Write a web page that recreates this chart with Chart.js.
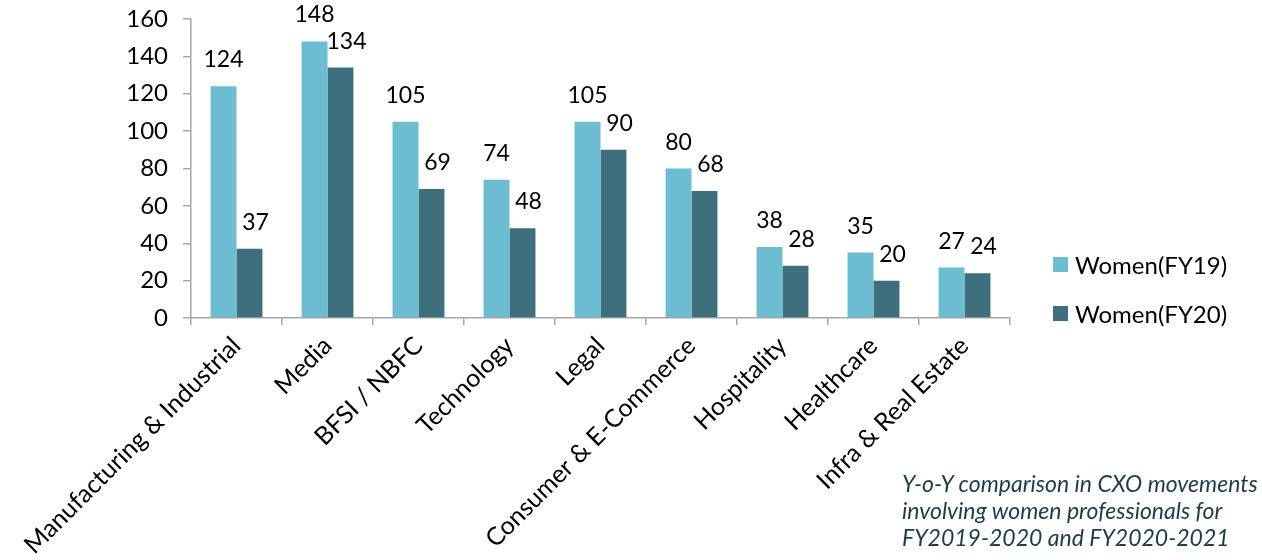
<!DOCTYPE html>
<html>
<head>
<meta charset="utf-8">
<title>CXO movements - women professionals</title>
<style>
  html, body { margin: 0; padding: 0; background: #fff; }
  #wrap { position: relative; width: 1262px; height: 560px; overflow: hidden; }
  #legend { position: absolute; left: 1053px; top: 248px; font: 24px Lato, sans-serif; color: #000; }
  #legend .item { display: flex; align-items: center; height: 32px; margin-bottom: 17px; }
  #legend .swatch { width: 15px; height: 15px; margin-right: 7px; }
  #caption { position: absolute; left: 902px; top: 470px; font: italic 23px Lato, sans-serif;
             color: #1d3b4b; line-height: 27px; white-space: nowrap; }
</style>
<script src="https://cdn.jsdelivr.net/npm/chart.js@4.4.0/dist/chart.umd.min.js"></script>
</head>
<body>
<div id="wrap">
  <canvas id="cxoChart" width="1262" height="560"></canvas>
  <div id="legend"></div>
  <div id="caption">Y-o-Y comparison in CXO movements<br>involving women professionals for<br>FY2019-2020 and FY2020-2021</div>
</div>
<script>
// sectors and CXO movement counts per year
const sectors = ['Manufacturing & Industrial', 'Media', 'BFSI / NBFC', 'Technology', 'Legal',
                 'Consumer & E-Commerce', 'Hospitality', 'Healthcare', 'Infra & Real Estate'];
const womenFY19 = [124, 148, 105, 74, 105, 80, 38, 35, 27];
const womenFY20 = [37, 134, 69, 48, 90, 68, 28, 20, 24];
const seriesNames = ['Women(FY19)', 'Women(FY20)'];
const yMin = 0, yMax = 160, yStep = 20;

const axisGrey = '#a6a6a6';
const fontFamily = 'Lato, sans-serif';

// numbers printed above each bar (second series nudged a little to the right)
const valueLabels = {
  id: 'valueLabels',
  afterDatasetsDraw(chart) {
    const ctx = chart.ctx;
    const nudge = [0, 6];
    ctx.save();
    ctx.font = '23px ' + fontFamily;
    ctx.fillStyle = '#000';
    ctx.textAlign = 'center';
    ctx.textBaseline = 'alphabetic';
    chart.data.datasets.forEach((ds, i) => {
      chart.getDatasetMeta(i).data.forEach((bar, j) => {
        ctx.fillText(String(ds.data[j]), bar.x + nudge[i], bar.y - 19);
      });
    });
    ctx.restore();
  }
};

const chart = new Chart(document.getElementById('cxoChart'), {
  type: 'bar',
  data: {
    labels: sectors,
    datasets: [
      { label: seriesNames[0], data: womenFY19, backgroundColor: '#6cbdd2' },
      { label: seriesNames[1], data: womenFY20, backgroundColor: '#3e6f7c' }
    ]
  },
  options: {
    responsive: false,
    animation: false,
    layout: { padding: { top: 19, right: 252, left: 0, bottom: 0 } },
    datasets: { bar: { categoryPercentage: 0.57, barPercentage: 1.0 } },
    scales: {
      x: {
        afterFit(scale) {
          scale.height = 242;
          scale.paddingTop = 0;
        },
        grid: { drawOnChartArea: false, offset: true, tickLength: 7, color: axisGrey, lineWidth: 1.5 },
        border: { color: axisGrey, width: 1.5 },
        ticks: {
          autoSkip: false, minRotation: 45, maxRotation: 45, padding: 6,
          color: '#000', font: { family: fontFamily, size: 25 }
        }
      },
      y: {
        min: yMin, max: yMax,
        afterFit(scale) {
          scale.width = 191;
          scale.paddingTop = 0;
          scale.paddingBottom = 0;
        },
        grid: { drawOnChartArea: false, tickLength: 8, color: axisGrey, lineWidth: 1.5 },
        border: { color: axisGrey, width: 1.5 },
        ticks: { stepSize: yStep, padding: 15, color: '#000', font: { family: fontFamily, size: 24 } }
      }
    },
    plugins: {
      legend: { display: false },
      tooltip: { enabled: false }
    }
  },
  plugins: [valueLabels]
});

// legend built from the chart's datasets
const legendEl = document.getElementById('legend');
chart.data.datasets.forEach(ds => {
  const row = document.createElement('div');
  row.className = 'item';
  const sw = document.createElement('span');
  sw.className = 'swatch';
  sw.style.background = ds.backgroundColor;
  const txt = document.createElement('span');
  txt.textContent = ds.label;
  row.appendChild(sw);
  row.appendChild(txt);
  legendEl.appendChild(row);
});
</script>
</body>
</html>
